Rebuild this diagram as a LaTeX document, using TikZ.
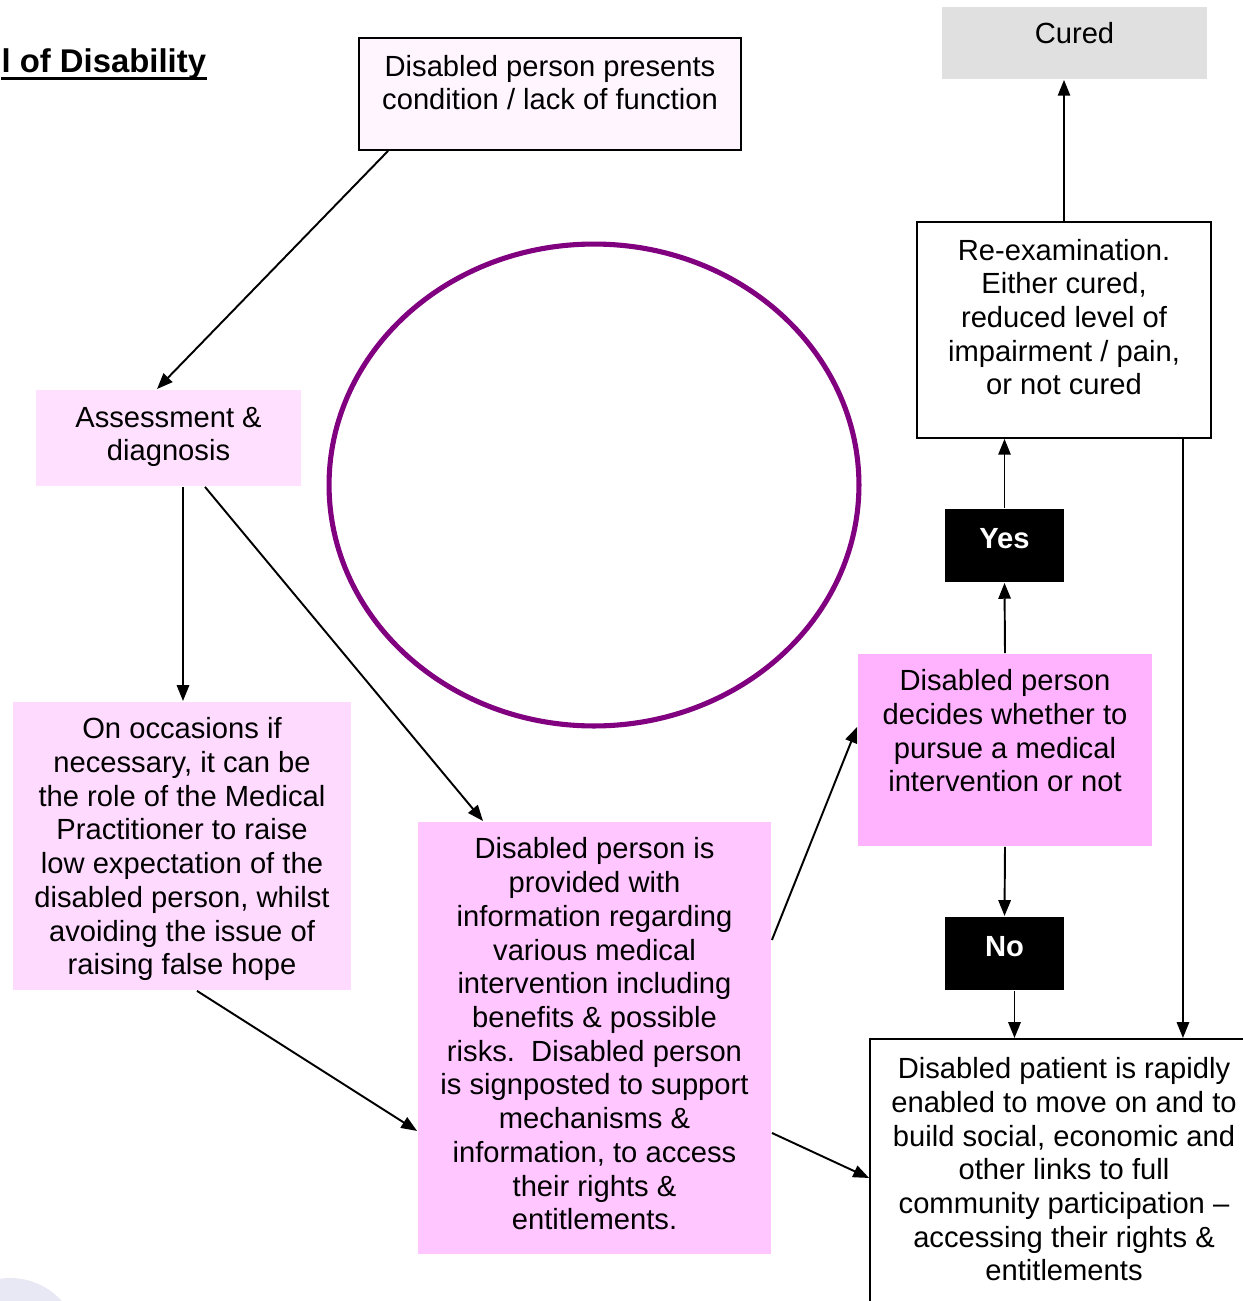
\documentclass[tikz,border=0pt]{standalone}
\usepackage{fontspec}
\setmainfont{Liberation Sans}
\usepackage{tikz}
\usetikzlibrary{arrows.meta,positioning}
\definecolor{fillstart}{HTML}{FFF5FF}
\definecolor{fillassess}{HTML}{FFE1FF}
\definecolor{filllow}{HTML}{FFDAFF}
\definecolor{fillinfo}{HTML}{FFC6FF}
\definecolor{filldecide}{HTML}{FFB3FF}
\definecolor{fillcured}{HTML}{E0E0E0}
\definecolor{ringpurple}{HTML}{800080}
\definecolor{cornergrey}{HTML}{E8E8F4}
\tikzset{
  every picture/.style = {
    line width = 1.1pt,
    >={Triangle[length=9pt,width=7pt]},
    x = 0.02cm, y = -0.02cm,
  }
  ,
  step-box/.style = {
    align = center,
    anchor = north,
    inner xsep = 2pt,
    inner ysep = 0pt,
    font = \fontsize{16.6}{19.2}\selectfont
  }
  , % boxes with a black border
  framed-box/.style = {
    step-box,
    draw,
    fill = white
  }
  , % the black yes / no answers
  answer/.style = {
    step-box,
    fill = black,
    text = white,
    font = \fontsize{16.6}{19.2}\selectfont\bfseries,
    minimum width = 2.38cm,
    text height = 0.80cm,
    text depth = 0.66cm
  }
}

\begin{document}
\begin{tikzpicture}[->]
\useasboundingbox (0,0) rectangle (1243,1301);
\fill[cornergrey] (10,1348) circle [radius=1.4cm];

\node [anchor=base east, inner sep=0pt, font=\fontsize{18.7}{22}\selectfont\bfseries] (title) at (207,72) {l of Disability};
\draw [-, line width=1.7pt] ([yshift=-3.5pt]title.base west) -- ([yshift=-3.5pt]title.base east);

\draw [ringpurple, line width=2.9pt, -] (594,485) ellipse [x radius=5.3cm, y radius=4.82cm];

\node [framed-box, fill=fillstart, minimum width=7.64cm, text height=1.44cm, text depth=0.80cm] (start) at (550,37)
  {Disabled person presents\\condition / lack of function};
\node [step-box, fill=fillcured, minimum width=5.3cm, text height=0.74cm, text depth=0.70cm] (cured) at (1074.5,6) {Cured};
\node [framed-box, minimum width=5.88cm, text height=3.46cm, text depth=0.86cm] (reexam) at (1064,221)
  {Re-examination.\\Either cured,\\reduced level of\\impairment / pain,\\or not cured};
\node [step-box, fill=fillassess, minimum width=5.3cm, text height=1.42cm, text depth=0.50cm] (assess) at (168.5,389)
  {Assessment \&\\diagnosis};
\node [answer] (yes) at (1004.5,508) {Yes};
\node [step-box, fill=filldecide, minimum width=5.88cm, text height=2.76cm, text depth=1.08cm] (decide) at (1005,653)
  {Disabled person\\decides whether to\\pursue a medical\\intervention or not};
\node [answer] (no) at (1004.5,916) {No};
\node [step-box, fill=filllow, minimum width=6.76cm, text height=5.46cm, text depth=0.30cm] (lowexp) at (182,701)
  {On occasions if\\necessary, it can be\\the role of the Medical\\Practitioner to raise\\low expectation of the\\disabled person, whilst\\avoiding the issue of\\raising false hope};
\node [step-box, fill=fillinfo, minimum width=7.06cm, text height=8.16cm, text depth=0.48cm] (info) at (594.5,821)
  {Disabled person is\\provided with\\information regarding\\various medical\\intervention including\\benefits \& possible\\risks.\ \ Disabled person\\is signposted to support\\mechanisms \&\\information, to access\\their rights \&\\entitlements.};
\node [framed-box, minimum width=7.76cm, text height=4.84cm, text depth=0.80cm] (moveon) at (1064,1038)
  {Disabled patient is rapidly\\enabled to move on and to\\build social, economic and\\other links to full\\community participation --\\accessing their rights \&\\entitlements};

\draw ([xshift=0.6cm]start.south west) -- ([xshift=2.44cm]assess.north west);
\draw ([xshift=0.29cm]assess.south) -- ([xshift=0.29cm]assess.south |- lowexp.north);
\draw ([xshift=0.73cm]assess.south) -- ([xshift=-2.23cm]info.north);
\draw ([xshift=0.3cm]lowexp.south) -- ([yshift=-6.2cm]info.north west);
\draw ([yshift=-2.38cm]info.north east) -- ([yshift=-1.48cm]decide.north west);
\draw ([yshift=-6.24cm]info.north east) -- ([yshift=-2.8cm]moveon.north west);
\draw (decide.north) -- (yes.south);
\draw (yes.north) -- (yes.north |- reexam.south);
\draw (reexam.north) -- (reexam.north |- cured.south);
\draw (decide.south) -- (no.north);
\draw ([xshift=0.2cm]no.south) -- ([xshift=0.2cm]no.south |- moveon.north);
\draw ([xshift=-0.58cm]reexam.south east) -- ([xshift=-0.58cm]reexam.south east |- moveon.north);
\end{tikzpicture}
\end{document}
